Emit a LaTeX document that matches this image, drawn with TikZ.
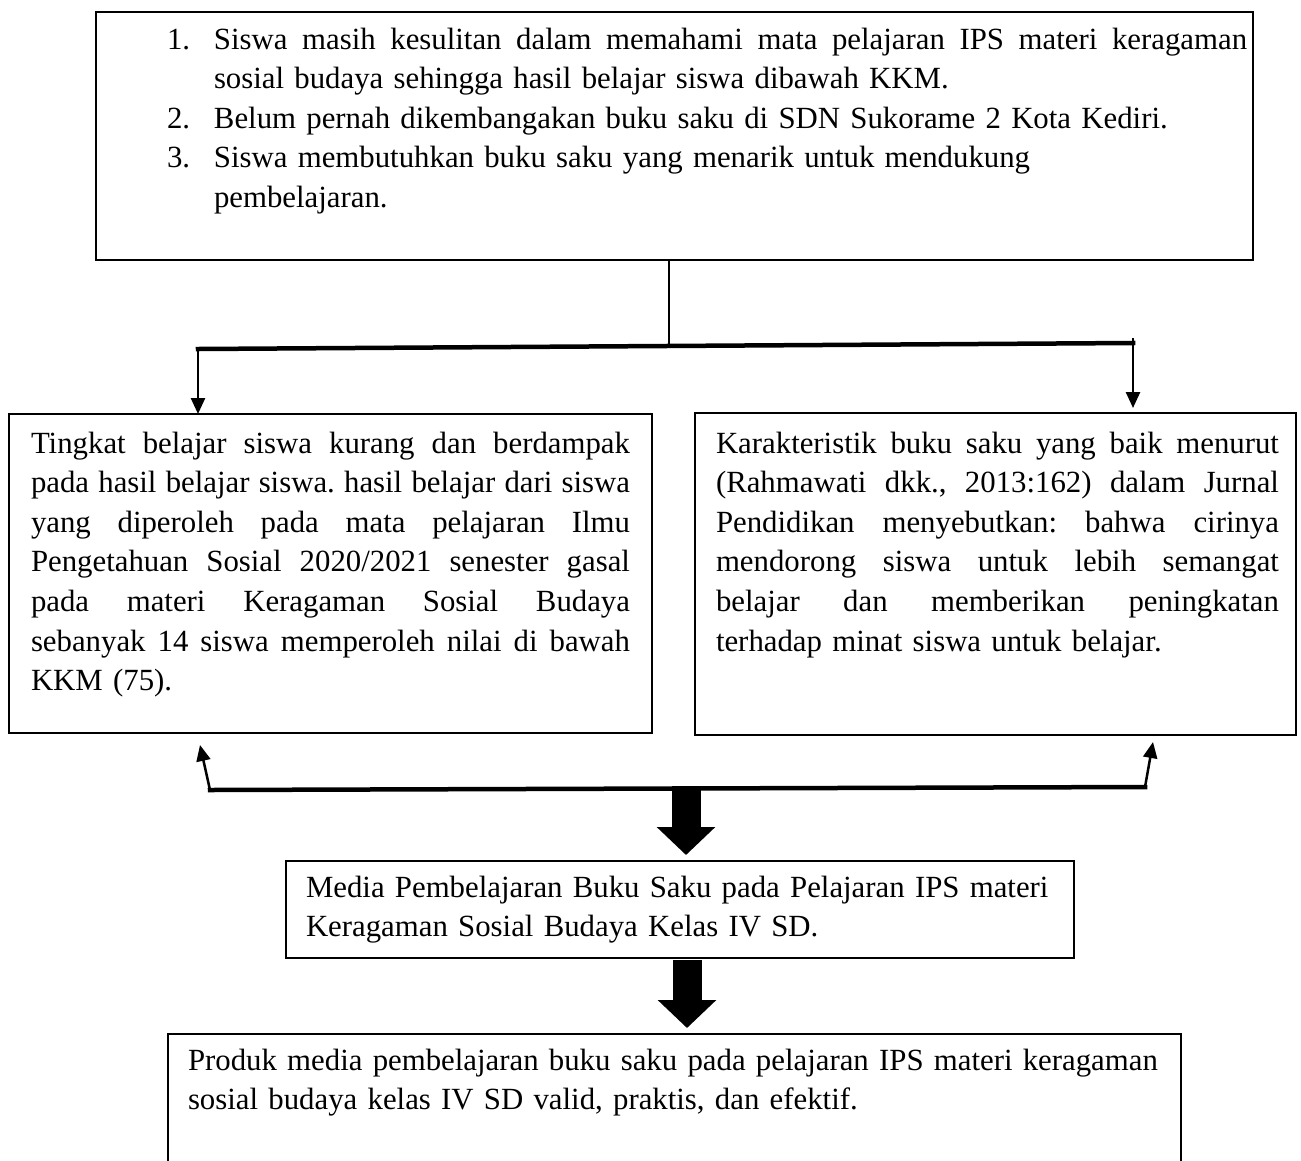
\documentclass[tikz,border=0pt]{standalone}
\usepackage{fontspec}
\setmainfont{Liberation Serif}
\usetikzlibrary{arrows.meta,calc}
\newcommand{\jline}[2]{\makebox[#1][s]{\spaceskip=.25em plus 1fil minus .1em\relax #2}}
\frenchspacing
\hyphenpenalty=10000
\exhyphenpenalty=10000
\begin{document}
\begin{tikzpicture}[x=1pt,y=-1pt,
  box/.style={draw, line width=2pt, inner sep=0pt, outer sep=0pt, anchor=north west},
  txt/.style={inner sep=0pt, outer sep=0pt, anchor=north west, align=left,
              font=\fontsize{30.8}{39.6}\selectfont},
  conn/.style={line width=2.5pt},
  bar/.style={line width=4.5pt, line cap=rect},
  arr/.style={line width=2.5pt, -{Triangle[length=16pt,width=14pt]}},
  bigarr/.style={line width=29pt, -{Triangle[length=28pt,width=57pt]}}
]
\useasboundingbox (0,0) rectangle (1301,1160);
\clip (0,0) rectangle (1301,1160);

% boxes
\node[box, minimum width=1157pt, minimum height=248pt] (top) at (96,12) {};
\node[box, minimum width=643pt, minimum height=319pt] (left) at (9,414) {};
\node[box, minimum width=601pt, minimum height=322pt] (right) at (695,413) {};
\node[box, minimum width=788pt, minimum height=97pt] (mid) at (286,861) {};
\node[box, minimum width=1013pt, minimum height=150pt] (bot) at (168,1034) {};

% texts
\node[txt, text width=1100pt] (toptext) at (167,21.3) {%
\strut\makebox[47pt][l]{1.}\jline{1033pt}{Siswa masih kesulitan dalam memahami mata pelajaran IPS materi keragaman}\\
\hspace*{47pt}sosial budaya sehingga hasil belajar siswa dibawah KKM.\\
\makebox[47pt][l]{2.}Belum pernah dikembangakan buku saku di SDN Sukorame 2 Kota Kediri.\\
\makebox[47pt][l]{3.}Siswa membutuhkan buku saku yang menarik untuk mendukung\\
\hspace*{47pt}pembelajaran.};

\node[txt, text width=620pt] (lefttext) at (31,425.3) {%
\strut\jline{599pt}{Tingkat belajar siswa kurang dan berdampak}\\
\jline{599pt}{pada hasil belajar siswa. hasil belajar dari siswa}\\
\jline{599pt}{yang diperoleh pada mata pelajaran Ilmu}\\
\jline{599pt}{Pengetahuan Sosial 2020/2021 senester gasal}\\
\jline{599pt}{pada materi Keragaman Sosial Budaya}\\
\jline{599pt}{sebanyak 14 siswa memperoleh nilai di bawah}\\
KKM (75).};

\node[txt, text width=580pt] (righttext) at (716,425.3) {%
\strut\jline{563pt}{Karakteristik buku saku yang baik menurut}\\
\jline{563pt}{(Rahmawati dkk., 2013:162) dalam Jurnal}\\
\jline{563pt}{Pendidikan menyebutkan: bahwa cirinya}\\
\jline{563pt}{mendorong siswa untuk lebih semangat}\\
\jline{563pt}{belajar dan memberikan peningkatan}\\
terhadap minat siswa untuk belajar.};

\node[txt, text width=900pt] (midtext) at (306,869.3) {%
\strut Media Pembelajaran Buku Saku pada Pelajaran IPS materi\\
Keragaman Sosial Budaya Kelas IV SD.};

\node[txt, text width=1100pt] (bottext) at (188,1042.3) {%
\strut Produk media pembelajaran buku saku pada pelajaran IPS materi keragaman\\
sosial budaya kelas IV SD valid, praktis, dan efektif.};

% upper bracket
\coordinate (j) at (669,346);
\coordinate (lb) at (198,349);
\coordinate (rb) at (1133,343);
\coordinate (rt) at (1133,338);
\draw[conn] (top.south -| j) -- (j);
\draw[bar] (lb) -- (rb);
\draw[arr] (lb) -- (left.north -| lb);
\draw[arr] (rt) -- ([yshift=5pt]right.north -| rt);

% lower bracket
\coordinate (bl) at (210,790);
\coordinate (br) at (1145,787);
\coordinate (tipL) at (200,745);
\coordinate (tipR) at (1153,742);
\draw[bar] (bl) -- (br);
\draw[arr] (bl) -- (tipL);
\draw[arr] (br) -- (tipR);

% big arrows
\coordinate (a1) at (686,786);
\coordinate (a2) at (687,960);
\draw[bigarr] (a1) -- ([yshift=6pt]mid.north -| a1);
\draw[bigarr] (a2) -- ([yshift=6pt]bot.north -| a2);
\end{tikzpicture}
\end{document}
